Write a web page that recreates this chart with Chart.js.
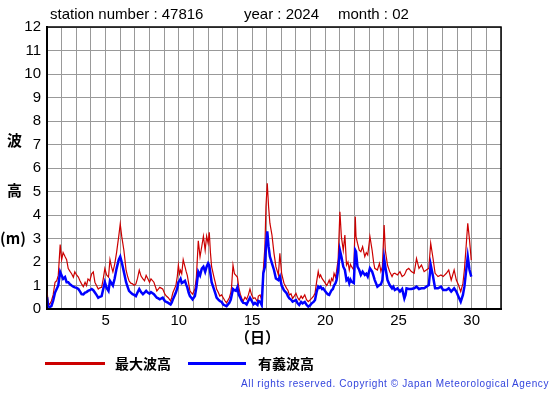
<!DOCTYPE html>
<html>
<head>
<meta charset="utf-8">
<script src="https://cdn.jsdelivr.net/npm/chart.js@4"></script>
<style>
  body { margin: 0; background: #fff; }
  #wrap { position: relative; width: 555px; height: 395px; }
  #waveChart { position: absolute; left: 0; top: 0; }
  .txt { position: absolute; white-space: nowrap; font-family: "Liberation Sans", Arial, sans-serif; color: #000; }
  .jp { font-family: "Noto Sans CJK JP", sans-serif; font-weight: bold; }
  .swatch { position: absolute; height: 3px; }
</style>
</head>
<body>
<div id="wrap">
  <canvas id="waveChart" width="555" height="395"></canvas>
  <div class="txt" style="left:50px;top:5px;font-size:15px;">station number : 47816</div>
  <div class="txt" style="left:244px;top:5px;font-size:15px;">year : 2024</div>
  <div class="txt" style="left:338px;top:5px;font-size:15px;">month : 02</div>
  <div class="txt jp" style="left:7px;top:129px;font-size:15px;">波</div>
  <div class="txt jp" style="left:7px;top:179px;font-size:15px;">高</div>
  <div class="txt jp" style="left:0px;top:227px;font-size:15px;">(m)</div>
  <div class="txt jp" style="left:235px;top:326px;font-size:15px;">（日）</div>
  <div class="swatch" style="left:45px;top:362px;width:60px;background:#cc0000;"></div>
  <div class="txt jp" style="left:115px;top:353px;font-size:14px;">最大波高</div>
  <div class="swatch" style="left:188px;top:362px;width:58px;background:#0000ff;"></div>
  <div class="txt jp" style="left:258px;top:353px;font-size:14px;">有義波高</div>
  <div class="txt" style="right:6px;top:378px;font-size:10px;letter-spacing:0.6px;color:#3344dd;">All rights reserved. Copyright © Japan Meteorological Agency</div>
</div>
<script>
// Time in days (1.0 = start of 1 Feb)
const days = [
  1.00, 1.08, 1.18, 1.30, 1.42, 1.55, 1.66, 1.77, 1.90, 2.00, 2.10, 2.23, 2.34, 2.45, 2.57, 2.68, 2.80, 2.90,
  3.02, 3.14, 3.25, 3.36, 3.48, 3.60, 3.70, 3.80, 3.92, 4.05, 4.16, 4.27, 4.38, 4.50, 4.61, 4.73, 4.84, 4.95,
  5.07, 5.20, 5.30, 5.40, 5.50, 5.62, 5.75, 5.90, 6.00, 6.10, 6.25, 6.40, 6.50, 6.60, 6.72, 6.84, 6.95,
  7.07, 7.18, 7.30, 7.42, 7.55, 7.66, 7.77, 7.88, 8.00, 8.10, 8.30, 8.50, 8.60, 8.70, 8.90,
  9.05, 9.15, 9.28, 9.44, 9.52, 9.60, 9.70, 9.80, 9.90, 9.97, 10.05, 10.12, 10.20, 10.30, 10.42, 10.50,
  10.58, 10.67, 10.76, 10.85, 10.94, 11.10, 11.20, 11.33, 11.45, 11.57, 11.68, 11.80, 11.90, 12.00, 12.08,
  12.16, 12.24, 12.40, 12.50, 12.58, 12.70, 12.80, 12.92, 13.03, 13.15, 13.26, 13.45, 13.55, 13.60, 13.70,
  13.80, 13.90, 14.00, 14.10, 14.20, 14.30, 14.40, 14.52, 14.63, 14.75, 14.86, 14.97, 15.10, 15.20, 15.37,
  15.43, 15.55, 15.66, 15.77, 15.88, 15.95, 16.04, 16.13, 16.22, 16.36, 16.50, 16.63, 16.80, 16.90, 17.02,
  17.10, 17.18, 17.36, 17.45, 17.55, 17.66, 17.77, 17.88, 18.00, 18.10, 18.22, 18.35, 18.45, 18.60, 18.72,
  18.84, 18.95, 19.07, 19.20, 19.30, 19.42, 19.52, 19.60, 19.68, 19.78, 19.86, 20.00, 20.10, 20.18, 20.27,
  20.35, 20.43, 20.52, 20.60, 20.70, 20.77, 20.88, 21.00, 21.10, 21.23, 21.34, 21.45, 21.55, 21.64, 21.72,
  21.80, 21.95, 22.05, 22.10, 22.20, 22.32, 22.43, 22.55, 22.70, 22.80, 22.90, 23.05, 23.20, 23.30, 23.38,
  23.56, 23.70, 23.80, 23.90, 24.02, 24.10, 24.25, 24.40, 24.56, 24.65, 24.75, 24.93, 25.10, 25.25, 25.40,
  25.48, 25.55, 25.70, 25.88, 26.07, 26.23, 26.40, 26.57, 26.75, 26.90, 27.07, 27.20, 27.36, 27.50, 27.70,
  27.90, 28.05, 28.27, 28.43, 28.60, 28.80, 28.95, 29.10, 29.25, 29.40, 29.50, 29.60, 29.73, 29.85, 29.97
];

// 最大波高 (m)
const maxWave = [
  0.80, 0.25, 0.20, 0.34, 0.60, 1.14, 1.20, 1.43, 2.74, 2.10, 2.40, 2.23, 2.10, 1.72, 1.60, 1.50, 1.35, 1.58,
  1.45, 1.36, 1.20, 1.07, 0.95, 1.14, 1.00, 1.28, 1.20, 1.50, 1.58, 1.14, 1.00, 0.85, 0.90, 0.92, 1.28, 1.72,
  1.45, 1.36, 2.10, 1.80, 1.58, 1.90, 2.40, 3.10, 3.62, 3.10, 2.50, 1.65, 1.40, 1.20, 1.10, 1.07, 1.00,
  1.07, 1.30, 1.65, 1.40, 1.28, 1.20, 1.43, 1.30, 1.14, 1.28, 1.14, 0.77, 0.85, 0.92, 0.85,
  0.63, 0.55, 0.48, 0.34, 0.50, 0.70, 0.85, 1.00, 1.40, 1.87, 1.50, 1.65, 1.50, 2.10, 1.80, 1.60,
  1.43, 1.10, 0.77, 0.70, 0.63, 0.85, 1.36, 2.90, 2.23, 2.67, 3.10, 2.50, 3.10, 2.80, 3.26,
  2.40, 1.80, 1.36, 1.10, 0.85, 0.70, 0.55, 0.60, 0.48, 0.35, 0.26, 0.48, 0.70, 0.92, 1.87,
  1.50, 1.43, 1.36, 0.90, 0.63, 0.45, 0.34, 0.50, 0.41, 0.60, 0.85, 0.60, 0.45, 0.48, 0.31,
  0.55, 0.60, 0.38, 1.66, 2.65, 4.35, 5.35, 4.35, 3.65, 3.15, 2.37, 1.80, 1.45, 2.37, 1.52,
  1.30, 1.10, 0.88, 0.80, 0.60, 0.65, 0.45, 0.55, 0.67, 0.50, 0.38, 0.55, 0.45, 0.60, 0.40,
  0.31, 0.38, 0.45, 0.55, 0.67, 1.20, 1.60, 1.35, 1.45, 1.30, 1.23, 1.10, 1.00, 1.10, 1.23,
  1.05, 1.30, 1.20, 1.52, 1.35, 1.60, 2.10, 4.14, 3.08, 2.50, 3.15, 1.87, 2.00, 1.66, 1.90,
  1.80, 1.66, 3.93, 3.08, 2.80, 2.50, 2.44, 2.65, 2.23, 2.40, 2.30, 3.08, 2.50, 2.00, 1.73,
  1.66, 1.94, 1.60, 1.80, 3.57, 2.50, 1.87, 1.59, 1.38, 1.50, 1.52, 1.45, 1.59, 1.38, 1.45,
  1.55, 1.66, 1.73, 1.59, 1.52, 2.15, 1.73, 1.87, 1.59, 1.66, 1.73, 2.80, 2.15, 1.52, 1.38,
  1.45, 1.38, 1.52, 1.66, 1.23, 1.66, 1.23, 1.02, 0.74, 1.09, 1.66, 2.50, 3.65, 2.94, 2.08
];

// 有義波高 (m)
const sigWave = [
  0.50, 0.12, 0.08, 0.12, 0.35, 0.70, 0.85, 1.00, 1.58, 1.43, 1.28, 1.36, 1.14, 1.14, 1.05, 1.00, 0.95, 0.92,
  0.90, 0.85, 0.75, 0.63, 0.62, 0.70, 0.72, 0.77, 0.80, 0.85, 0.80, 0.70, 0.60, 0.48, 0.52, 0.55, 0.85, 1.14,
  0.90, 0.77, 1.20, 1.10, 1.00, 1.30, 1.72, 2.10, 2.23, 2.00, 1.58, 1.14, 0.95, 0.77, 0.70, 0.63, 0.60,
  0.55, 0.70, 0.85, 0.72, 0.63, 0.70, 0.77, 0.70, 0.65, 0.72, 0.63, 0.48, 0.45, 0.41, 0.48,
  0.34, 0.30, 0.26, 0.19, 0.28, 0.41, 0.55, 0.70, 0.90, 1.14, 1.20, 1.28, 1.10, 1.14, 1.20, 1.05,
  0.92, 0.70, 0.55, 0.48, 0.41, 0.55, 0.92, 1.58, 1.43, 1.72, 1.80, 1.58, 1.80, 1.94, 1.85,
  1.50, 1.14, 0.85, 0.65, 0.48, 0.40, 0.34, 0.30, 0.19, 0.15, 0.12, 0.26, 0.40, 0.55, 0.85,
  0.80, 0.77, 0.92, 0.60, 0.48, 0.35, 0.26, 0.25, 0.19, 0.35, 0.48, 0.35, 0.20, 0.26, 0.17,
  0.34, 0.31, 0.17, 1.52, 1.80, 2.65, 3.30, 2.65, 2.23, 1.94, 1.66, 1.30, 1.23, 1.38, 1.00,
  0.90, 0.80, 0.67, 0.55, 0.45, 0.40, 0.31, 0.35, 0.38, 0.25, 0.17, 0.30, 0.24, 0.30, 0.18,
  0.10, 0.15, 0.24, 0.30, 0.38, 0.75, 0.95, 0.90, 0.95, 0.85, 0.88, 0.75, 0.67, 0.62, 0.60,
  0.70, 0.80, 0.85, 1.00, 1.10, 1.23, 1.66, 2.50, 2.23, 1.80, 1.66, 1.23, 1.30, 1.10, 1.25,
  1.16, 1.10, 2.50, 2.44, 1.80, 1.66, 1.45, 1.59, 1.45, 1.50, 1.38, 1.73, 1.59, 1.40, 1.23,
  0.95, 1.02, 1.05, 1.23, 2.15, 1.80, 1.23, 1.02, 0.88, 0.95, 0.81, 0.88, 0.74, 0.85, 0.45,
  0.60, 0.88, 0.85, 0.85, 0.88, 0.95, 0.85, 0.88, 0.88, 0.95, 1.02, 1.87, 1.38, 0.88, 0.88,
  0.95, 0.81, 0.81, 0.88, 0.74, 0.88, 0.74, 0.52, 0.31, 0.60, 0.95, 1.52, 2.23, 1.66, 1.38
];

const xLabels = [5, 10, 15, 20, 25, 30];

const toPoints = vals => vals.map((v, i) => ({ x: days[i], y: v }));

// Frame round the plot area (top and right edges)
const frame = {
  id: 'frame',
  afterDatasetsDraw(chart) {
    const { ctx, chartArea: a } = chart;
    ctx.save();
    ctx.strokeStyle = '#000';
    ctx.lineWidth = 1.5;
    ctx.strokeRect(a.left, a.top, a.right - a.left, a.bottom - a.top);
    ctx.restore();
  }
};

new Chart(document.getElementById('waveChart'), {
  type: 'line',
  data: {
    datasets: [
      {
        label: '有義波高',
        data: toPoints(sigWave),
        borderColor: '#0000ff',
        borderWidth: 2.5,
        pointRadius: 0,
        tension: 0,
        order: 0
      },
      {
        label: '最大波高',
        data: toPoints(maxWave),
        borderColor: '#cc0000',
        borderWidth: 1.2,
        pointRadius: 0,
        tension: 0,
        order: 1
      }
    ]
  },
  options: {
    responsive: false,
    animation: false,
    layout: { padding: { top: 27, right: 54, left: 0, bottom: 0 } },
    plugins: { legend: { display: false }, tooltip: { enabled: false } },
    scales: {
      x: {
        type: 'linear',
        min: 1,
        max: 32,
        afterFit: s => { s.height = 86; },
        ticks: {
          stepSize: 1,
          autoSkip: false,
          maxRotation: 0,
          padding: 3,
          color: '#000',
          font: { family: 'Liberation Sans', size: 15 },
          callback: v => xLabels.includes(v) ? String(v) : ''
        },
        grid: { color: '#999', lineWidth: 1, drawTicks: false },
        border: { color: '#000', width: 2 }
      },
      y: {
        min: 0,
        max: 12,
        afterFit: s => { s.width = 47; },
        ticks: {
          stepSize: 1,
          padding: 6,
          color: '#000',
          font: { family: 'Liberation Sans', size: 15 }
        },
        grid: { color: '#999', lineWidth: 1, drawTicks: false },
        border: { color: '#000', width: 2 }
      }
    }
  },
  plugins: [frame]
});
</script>
</body>
</html>
